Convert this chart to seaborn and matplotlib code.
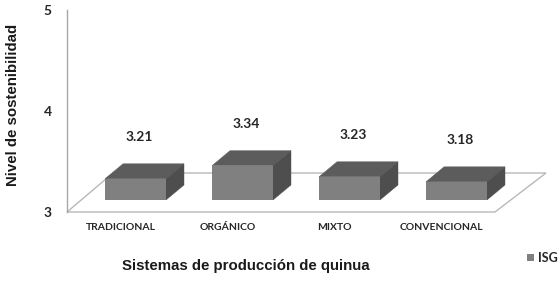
import matplotlib
matplotlib.use("Agg")
import matplotlib.pyplot as plt
import matplotlib.transforms as mtransforms
from matplotlib.patches import Polygon, Patch
import pandas as pd
import seaborn as sns

# ---- data ----
categories = ["TRADICIONAL", "ORGÁNICO", "MIXTO", "CONVENCIONAL"]
isg_values = [3.21, 3.34, 3.23, 3.18]
value_labels = ["3.21", "3.34", "3.23", "3.18"]
y_ticks = [3, 4, 5]
y_tick_labels = ["3", "4", "5"]
series_name = "ISG"
x_title = "Sistemas de producción de quinua"
y_title = "Nivel de sostenibilidad"

# ---- style ----
FRONT = "#808080"
TOP = "#5c5c5c"
SIDE = "#4e4e4e"
FLOOR = "#b8b8b8"
AXIS = "#a8a8a8"
TXT = "#262626"

sns.set_theme(style="white")
plt.rcParams['font.family'] = ['Liberation Sans', 'DejaVu Sans']

W, H, DPI = 560, 293, 100
fig = plt.figure(figsize=(W / DPI, H / DPI), dpi=DPI)
ax = fig.add_axes([67 / W, (H - 212) / H, (495 - 67) / W, (212 - 10) / H])

df = pd.DataFrame({"sistema": categories, "valor": isg_values})
sns.barplot(data=df, x="sistema", y="valor", order=categories, color=FRONT,
            saturation=1, width=0.57, linewidth=0, label=series_name, ax=ax,
            zorder=3)

ax.set_xlim(-0.5, len(categories) - 0.5)
ax.set_ylim(y_ticks[0], y_ticks[-1])

# bars start at the floor level of the chart
base = y_ticks[0]
bars = list(ax.patches)
for p in bars:
    h = p.get_height()
    p.set_y(base)
    p.set_height(h - base)

# 3D-like offsets (pixels)
FX, FY = 15, 12       # front face position inside the floor depth
DX, DY = 18, 15       # depth of the boxes
front_tr = ax.transData + mtransforms.ScaledTranslation(FX / DPI, FY / DPI, fig.dpi_scale_trans)
ident = mtransforms.IdentityTransform()

# floor
A = ax.transAxes.transform((0, 0))
B = ax.transAxes.transform((1, 0))
floor = Polygon([(A[0], A[1]), (B[0], B[1]), (B[0] + 51, B[1] + 39), (A[0] + 46, A[1] + 39)],
                closed=True, fill=False, edgecolor=FLOOR, linewidth=1.0,
                transform=ident, clip_on=False, zorder=1)
ax.add_patch(floor)

for p in bars:
    p.set_transform(front_tr)
    x0, x1 = p.get_x(), p.get_x() + p.get_width()
    y0, y1 = p.get_y(), p.get_y() + p.get_height()
    (X0, Y0), (X1, Y1) = front_tr.transform([(x0, y0), (x1, y1)])
    top = Polygon([(X0, Y1), (X1, Y1), (X1 + DX, Y1 + DY), (X0 + DX, Y1 + DY)],
                  closed=True, facecolor=TOP, edgecolor=TOP, linewidth=0.3,
                  transform=ident, clip_on=False, zorder=2)
    side = Polygon([(X1, Y0), (X1 + DX, Y0 + DY), (X1 + DX, Y1 + DY), (X1, Y1)],
                   closed=True, facecolor=SIDE, edgecolor=SIDE, linewidth=0.3,
                   transform=ident, clip_on=False, zorder=2)
    ax.add_patch(top)
    ax.add_patch(side)

# value labels
lab_tr = ax.transData + mtransforms.ScaledTranslation(19 / DPI, 54 / DPI, fig.dpi_scale_trans)
for p, v, lbl in zip(bars, isg_values, value_labels):
    ax.text(p.get_x() + p.get_width() / 2, v, lbl, transform=lab_tr,
            ha="center", va="center", fontsize=10, fontweight="bold",
            family=["Lato", "DejaVu Sans"], color=TXT)

# spines / ticks
for s in ["top", "right", "bottom"]:
    ax.spines[s].set_visible(False)
ax.spines["left"].set_color(AXIS)
ax.spines["left"].set_linewidth(1.0)
ax.set_yticks(y_ticks)
ax.set_yticklabels(y_tick_labels, fontsize=10, fontweight="bold",
                   family=["Lato", "DejaVu Sans"], color=TXT)
ax.set_xticks(range(len(categories)))
ax.set_xticklabels(categories, fontsize=7.5, fontweight="bold",
                   family=["Lato", "DejaVu Sans"], color=TXT)
ax.tick_params(axis="y", length=0, pad=11)
ax.tick_params(axis="x", length=0, pad=8)
ax.set_xlabel("")
ax.set_ylabel("")

fig.text(246 / W, 1 - 266 / H, x_title, ha="center", va="center",
         fontsize=10.8, fontweight="bold", color="#1a1a1a")
fig.text(13 / W, 1 - 105 / H, y_title, ha="center", va="center", rotation=90,
         fontsize=10.8, fontweight="bold", color="#1a1a1a")

# legend
handles, labels = ax.get_legend_handles_labels()
if not handles:
    handles, labels = [Patch(color=FRONT)], [series_name]
leg = ax.legend(handles[:1], labels[:1], loc="center left",
                bbox_to_anchor=(527 / W, 1 - 258 / H), bbox_transform=fig.transFigure,
                frameon=False, handlelength=0.55, handleheight=0.55, handletextpad=0.3,
                borderpad=0, borderaxespad=0,
                prop={"family": ["Lato", "DejaVu Sans"], "weight": "bold", "size": 9})
for t in leg.get_texts():
    t.set_color(TXT)

fig.savefig("out.png", dpi=DPI, facecolor="white")
